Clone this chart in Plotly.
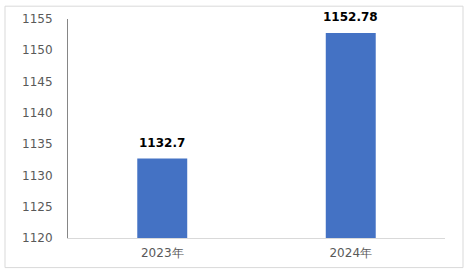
import plotly.graph_objects as go

categories = ["2023年", "2024年"]
values = [1132.7, 1152.78]
labels = ["1132.7", "1152.78"]
y_ticks = [1120, 1125, 1130, 1135, 1140, 1145, 1150, 1155]

L, R, T, B = 68, 26, 16, 35
W, H = 471, 273
pw, ph = W - L - R, H - T - B

def px_x(px):
    return (px - L) / pw

def px_y(py):
    return (H - B - py) / ph

fig = go.Figure(go.Bar(
    x=categories, y=values, width=0.265,
    marker=dict(color="#4472C4", line=dict(width=0)),
))

for c, v, t in zip(categories, values, labels):
    fig.add_annotation(x=c, y=v, text=t, showarrow=False, yanchor="bottom",
                       yshift=7, font=dict(family="DejaVu Sans", size=12,
                                           color="#000000", weight="bold"))

fig.update_layout(
    width=W, height=H,
    margin=dict(l=L, r=R, t=T, b=B),
    paper_bgcolor="white", plot_bgcolor="white",
    showlegend=False,
    font=dict(family="DejaVu Sans", size=12, color="#595959"),
    xaxis=dict(showgrid=False, showline=True, linecolor="#d9d9d9", linewidth=1,
               ticks="", ticklabelstandoff=4, tickfont=dict(size=12, color="#595959")),
    yaxis=dict(range=[1120, 1155], tickvals=y_ticks, showgrid=False, zeroline=False,
               showline=True, linecolor="#868686", linewidth=1, ticks="",
               ticklabelstandoff=12,
               tickfont=dict(size=12, color="#595959")),
    shapes=[dict(type="rect", xref="paper", yref="paper",
                 x0=px_x(5), x1=px_x(463), y0=px_y(268), y1=px_y(3),
                 line=dict(color="#d9d9d9", width=1), fillcolor="rgba(0,0,0,0)")],
)

fig.write_html("out.html")
